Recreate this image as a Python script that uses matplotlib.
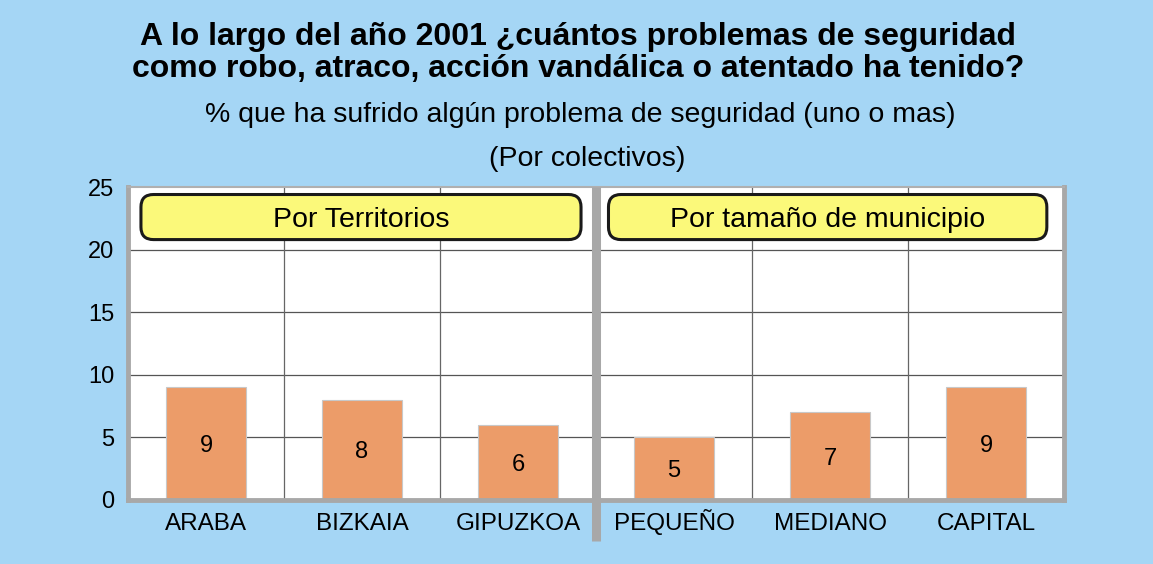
import matplotlib
matplotlib.use("Agg")
import matplotlib.pyplot as plt
from matplotlib.patches import FancyBboxPatch

plt.rcParams['font.family'] = ['Liberation Sans', 'DejaVu Sans']

categories = ["ARABA", "BIZKAIA", "GIPUZKOA", "PEQUEÑO", "MEDIANO", "CAPITAL"]
values = [9, 8, 6, 5, 7, 9]
yticks = [0, 5, 10, 15, 20, 25]
group_labels = ["Por Territorios", "Por tamaño de municipio"]
title = "A lo largo del año 2001 ¿cuántos problemas de seguridad\ncomo robo, atraco, acción vandálica o atentado ha tenido?"
subtitle1 = "% que ha sufrido algún problema de seguridad (uno o mas)"
subtitle2 = "(Por colectivos)"

W, H = 1153, 564
fig = plt.figure(figsize=(W / 100, H / 100), dpi=100)
fig.patch.set_facecolor("#A5D6F5")

ax = fig.add_axes([128 / W, (H - 500) / H, (1064 - 128) / W, (500 - 187) / H])
ax.set_facecolor("white")
x = list(range(len(categories)))
ax.set_xlim(-0.5, len(categories) - 0.5)
ax.set_ylim(0, 25)

# grid
for yv in yticks[1:-1]:
    ax.axhline(yv, color="#555555", lw=0.9, zorder=1)
for xv in [0.5, 1.5, 3.5, 4.5]:
    ax.axvline(xv, color="#666666", lw=0.9, zorder=1)

bars = ax.bar(x, values, width=0.51, color="#EC9C69", edgecolor="#C8C8C8", lw=0.8, zorder=2)
for xi, v in zip(x, values):
    ax.text(xi, v / 2 - 0.2, str(v), ha="center", va="center", fontsize=17, color="black", zorder=3)

# divider between groups
ax.plot([2.5, 2.5], [25, -3.3], color="#A8A8A8", lw=6.5, clip_on=False, zorder=4, solid_capstyle="butt")

# group label boxes
ux = 156.0
uy = 12.5
for (x0, x1), lab in zip([(-0.417, 2.404), (2.58, 5.39)], group_labels):
    box = FancyBboxPatch((x0, 20.8), x1 - x0, 24.4 - 20.8,
                         boxstyle="round,pad=0,rounding_size=0.08",
                         mutation_aspect=ux / uy,
                         facecolor="#FBF97A", edgecolor="#1A1A1A", lw=2.2, zorder=5)
    ax.add_patch(box)
    ax.text((x0 + x1) / 2, 22.4, lab, ha="center", va="center", fontsize=20.5, zorder=6)

ax.set_xticks(x)
ax.set_xticklabels(categories, fontsize=17.5)
for lbl in ax.get_xticklabels():
    lbl.set_verticalalignment("baseline")
ax.set_yticks(yticks)
ax.set_yticklabels([str(t) for t in yticks], fontsize=17)
ax.tick_params(length=0)
ax.tick_params(axis="y", pad=10)
ax.tick_params(axis="x", pad=21.5)

for side in ["left", "bottom", "right"]:
    ax.spines[side].set_color("#A8A8A8")
    ax.spines[side].set_linewidth(3.5)
ax.spines["top"].set_color("#B0B0B0")
ax.spines["top"].set_linewidth(1.5)

fig.text(578 / W, 1 - 53 / H, title, ha="center", va="center", fontsize=23,
         fontweight="bold", linespacing=1.13)
fig.text(580 / W, 1 - 115 / H, subtitle1, ha="center", va="center", fontsize=20.5)
fig.text(587 / W, 1 - 159 / H, subtitle2, ha="center", va="center", fontsize=20.5)

fig.savefig("out.png", dpi=100, facecolor=fig.get_facecolor())
